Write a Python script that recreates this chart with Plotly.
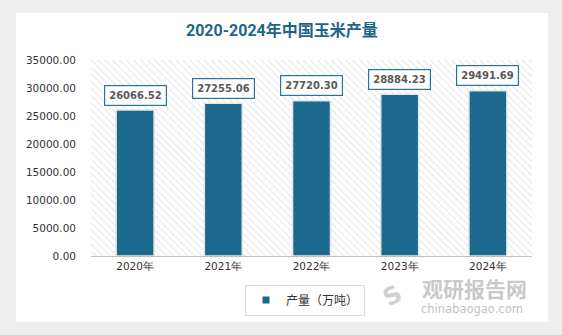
import plotly.graph_objects as go

years = ["2020年", "2021年", "2022年", "2023年", "2024年"]
output = [26066.52, 27255.06, 27720.30, 28884.23, 29491.69]
yticks = [0, 5000, 10000, 15000, 20000, 25000, 30000, 35000]
title = "2020-2024年中国玉米产量"
series_name = "产量（万吨）"

BAR = "#1b6a8e"
W, H = 562, 335
L, R, T, B = 91, 30, 60, 79
pw, ph = W - L - R, H - T - B

def px_x(x):
    return (x - L) / pw

def px_y(y):
    return (H - B - y) / ph

fig = go.Figure()

# hatched plot background
fig.add_trace(go.Bar(
    x=[0.5], y=[yticks[-1]], width=[1], xaxis="x", yaxis="y",
    marker=dict(color="white", line=dict(width=0),
                pattern=dict(shape="\\", fgcolor="#d4d4d4", bgcolor="white", size=5, solidity=0.25)),
    showlegend=False, hoverinfo="skip",
))

fig.add_trace(go.Bar(
    x=years, y=output, name=series_name, xaxis="x2", yaxis="y",
    marker=dict(color=BAR, line=dict(color="#e6e6e6", width=1.5)),
    width=0.43, showlegend=False,
))

# legend entry with small square marker
fig.add_trace(go.Scatter(
    x=[None], y=[None], mode="markers", name=series_name, xaxis="x2", yaxis="y",
    marker=dict(symbol="square", size=7, color=BAR),
))

for yr, v in zip(years, output):
    fig.add_annotation(
        x=yr, y=v, xref="x2", yref="y", text=f"<b>{v:.2f}</b>",
        showarrow=False, yshift=15,
        font=dict(family="DejaVu Sans", size=10, color="#595959"),
        bgcolor="white", bordercolor="#2c7398", borderwidth=1.2, borderpad=4,
    )

# card
fig.add_shape(type="rect", xref="paper", yref="paper",
              x0=px_x(16), x1=px_x(548), y0=px_y(322), y1=px_y(13),
              fillcolor="white", line=dict(width=0), layer="below")

def paper_text(x, y, text, font, **kw):
    fig.add_annotation(x=px_x(x), y=px_y(y), xref="paper", yref="paper",
                       xanchor="center", yanchor="middle", text=text,
                       showarrow=False, font=font, **kw)

paper_text(282, 31, f"<b>{title}</b>",
           dict(family="Roboto, Noto Sans CJK SC", size=16, color="#1f6489"))

# watermark
paper_text(474, 288, "<b>观研报告网</b>",
           dict(family="Noto Sans CJK SC", size=21, color="#c9c9c9"))
paper_text(472, 309, "chinabaogao.com",
           dict(family="DejaVu Sans", size=11.5, color="#c2c2c2"))
paper_text(392, 296, "<b>S</b>",
           dict(family="DejaVu Sans", size=24, color="#d0d0d0"), textangle=-30)

fig.update_layout(
    width=W, height=H,
    margin=dict(l=L, r=R, t=T, b=B),
    paper_bgcolor="#eeeeee",
    plot_bgcolor="white",
    barmode="overlay",
    xaxis=dict(range=[0, 1], visible=False, fixedrange=True),
    xaxis2=dict(overlaying="x", type="category", showline=True, linecolor="#bfbfbf",
                linewidth=1, ticks="", tickfont=dict(family="DejaVu Sans", size=10.5, color="#333333"),
                showgrid=False, range=[-0.5, 4.5]),
    yaxis=dict(range=[0, yticks[-1]], tickvals=yticks, tickformat=".2f",
               showgrid=False, zeroline=False, showline=False, ticks="",
               tickfont=dict(family="DejaVu Sans", size=10.5, color="#333333"), ticklabelstandoff=14),
    legend=dict(orientation="h", x=px_x(305), y=px_y(300), xanchor="center", yanchor="middle",
                bordercolor="#d9d9d9", borderwidth=1, bgcolor="white", itemwidth=30,
                font=dict(family="Noto Sans CJK SC", size=12, color="#333333")),
    showlegend=True,
)

fig.write_html("out.html")
